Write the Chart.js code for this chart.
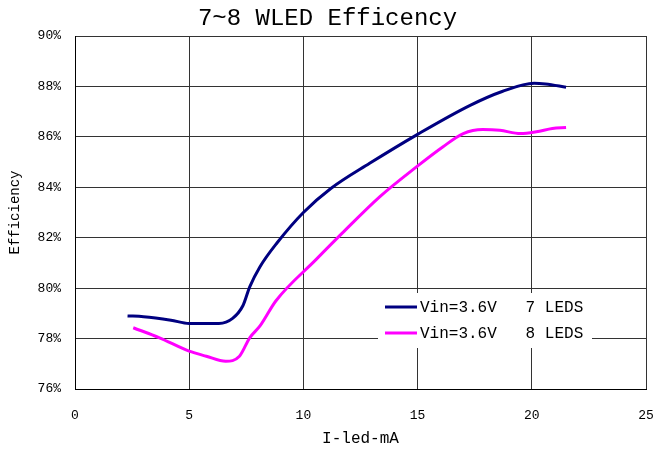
<!DOCTYPE html>
<html>
<head>
<meta charset="utf-8">
<script src="https://cdn.jsdelivr.net/npm/chart.js@4"></script>
<style>
  body { margin: 0; background: #fff; }
  canvas { display: block; }
</style>
</head>
<body>
<canvas id="effChart" width="655" height="459"></canvas>
<script>
const xTicks = [0, 5, 10, 15, 20, 25];
const yTicks = [76, 78, 80, 82, 84, 86, 88, 90];

const led7Current = [2.3, 3.0, 4.2, 5.0, 6.3, 6.9, 7.35, 7.65, 8.1, 8.85, 10.0, 11.2, 12.9, 15.0, 17.3, 18.7, 20.1, 20.6, 21.5];
const led7Eff = [78.9, 78.87, 78.73, 78.6, 78.6, 78.8, 79.3, 80.05, 80.85, 81.8, 83.0, 83.95, 84.95, 86.1, 87.25, 87.8, 88.13, 88.1, 87.97];

const led8Current = [2.55, 3.7, 5.0, 5.75, 6.6, 7.2, 7.65, 8.1, 8.8, 10.55, 11.7, 13.35, 14.95, 16.1, 17.0, 17.85, 18.6, 19.5, 20.2, 20.9, 21.5];
const led8Eff = [78.43, 78.03, 77.5, 77.3, 77.1, 77.3, 78.03, 78.5, 79.5, 81.13, 82.18, 83.63, 84.81, 85.6, 86.13, 86.29, 86.26, 86.13, 86.2, 86.33, 86.37];

const seriesLabels = ['Vin=3.6V   7 LEDS', 'Vin=3.6V   8 LEDS'];
const seriesColors = ['#000080', '#ff00ff'];

const MONO = '"Liberation Mono", "DejaVu Sans Mono", monospace';

function toPoints(xs, ys) {
  return xs.map((x, i) => ({ x, y: ys[i] }));
}

// legend drawn inside the plot, on a white patch over the grid
const boxLegend = {
  id: 'boxLegend',
  afterDatasetsDraw(chart) {
    const { ctx, chartArea } = chart;
    const left = chartArea.left + 303;
    const top = chartArea.top + 257;
    ctx.save();
    ctx.fillStyle = '#fff';
    ctx.fillRect(left, top, 214, 55);
    ctx.font = '16px ' + MONO;
    ctx.textBaseline = 'middle';
    chart.data.datasets.forEach((ds, i) => {
      const y = top + 14 + i * 26;
      ctx.strokeStyle = ds.borderColor;
      ctx.lineWidth = 3;
      ctx.beginPath();
      ctx.moveTo(left + 7, y);
      ctx.lineTo(left + 39, y);
      ctx.stroke();
      ctx.fillStyle = '#000';
      ctx.fillText(ds.label, left + 42, y + 1);
    });
    ctx.restore();
  },
};

new Chart(document.getElementById('effChart'), {
  type: 'scatter',
  data: {
    datasets: [
      {
        label: seriesLabels[0],
        data: toPoints(led7Current, led7Eff),
        borderColor: seriesColors[0],
        backgroundColor: seriesColors[0],
        showLine: true,
        borderWidth: 3,
        pointRadius: 0,
        cubicInterpolationMode: 'monotone',
      },
      {
        label: seriesLabels[1],
        data: toPoints(led8Current, led8Eff),
        borderColor: seriesColors[1],
        backgroundColor: seriesColors[1],
        showLine: true,
        borderWidth: 3,
        pointRadius: 0,
        cubicInterpolationMode: 'monotone',
      },
    ],
  },
  options: {
    responsive: false,
    animation: false,
    layout: { padding: 0 },
    plugins: {
      legend: { display: false },
      tooltip: { enabled: false },
      title: {
        display: true,
        text: '7~8 WLED Efficency',
        color: '#000',
        font: { family: MONO, size: 24, weight: 'normal' },
        padding: { top: 4, bottom: 3.2 },
      },
    },
    scales: {
      x: {
        type: 'linear',
        min: xTicks[0],
        max: xTicks[xTicks.length - 1],
        afterFit: (scale) => {
          scale.height = 70;
          scale.paddingLeft = 0;
          scale.paddingRight = 9;
        },
        afterBuildTicks: (scale) => { scale.ticks = xTicks.map((v) => ({ value: v })); },
        ticks: { color: '#000', padding: 19, maxRotation: 0, font: { family: MONO, size: 13 } },
        grid: { color: '#333', lineWidth: 1, drawTicks: false },
        border: { color: '#000', width: 1 },
        title: {
          display: true,
          text: 'I-led-mA',
          color: '#000',
          font: { family: MONO, size: 16 },
          padding: { top: 0, bottom: 11 },
        },
      },
      y: {
        type: 'linear',
        min: yTicks[0],
        max: yTicks[yTicks.length - 1],
        afterFit: (scale) => { scale.width = 75; },
        afterBuildTicks: (scale) => { scale.ticks = yTicks.map((v) => ({ value: v })); },
        ticks: {
          color: '#000',
          padding: 14,
          font: { family: MONO, size: 13 },
          callback: (v) => `${v}%`,
        },
        grid: { color: '#333', lineWidth: 1, drawTicks: false },
        border: { color: '#000', width: 1 },
        title: {
          display: true,
          text: 'Efficiency',
          color: '#000',
          font: { family: MONO, size: 14 },
          padding: { top: 7, bottom: 0 },
        },
      },
    },
  },
  plugins: [boxLegend],
});
</script>
</body>
</html>
